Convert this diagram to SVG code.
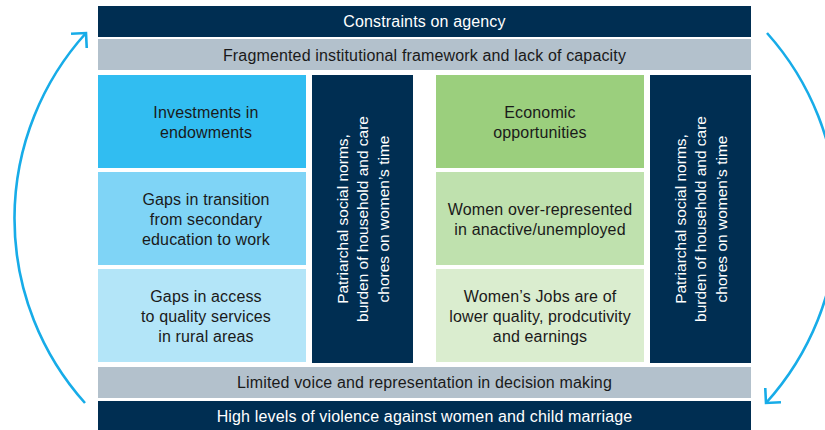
<svg xmlns="http://www.w3.org/2000/svg" width="825" height="430" viewBox="0 0 825 430">
<defs>
<style>
text{font-family:"Liberation Sans","DejaVu Sans",Arial,sans-serif;font-size:16px;letter-spacing:0.15px;text-anchor:middle;}
.vt{font-size:15.5px;letter-spacing:0;}
.dk{fill:#002E52;}
.gr{fill:#B3C1CC;}
.wt{fill:#FFFFFF;}
.bt{fill:#1A1A1A;}
.arc{fill:none;stroke:#17ACE8;stroke-width:2.6;}
</style>
<marker id="ah" markerWidth="24" markerHeight="24" refX="12" refY="12" orient="auto" markerUnits="userSpaceOnUse">
<path d="M1.4,1.4 L12,12 L1.4,22.6" fill="none" stroke="#17ACE8" stroke-width="2.6" stroke-linecap="butt"/>
</marker>
</defs>
<rect width="825" height="430" fill="#FFFFFF"/>

<g id="constraints">
<rect class="dk" x="98" y="6" width="653" height="31"/>
<text class="wt" x="424.5" y="27">Constraints on agency</text>
</g>
<g id="fragmented">
<rect class="gr" x="98" y="39" width="653" height="31"/>
<text class="bt" x="424.5" y="60.5">Fragmented institutional framework and lack of capacity</text>
</g>

<g id="investments">
<rect x="98" y="75" width="208" height="93" fill="#31BDF1"/>
<text class="bt" x="206" y="117.5">Investments in</text>
<text class="bt" x="206" y="137.5">endowments</text>
</g>
<g id="gaps-transition">
<rect x="98" y="172" width="208" height="93" fill="#7FD4F6"/>
<text class="bt" x="206" y="204.5">Gaps in transition</text>
<text class="bt" x="206" y="224.5">from secondary</text>
<text class="bt" x="206" y="244.5">education to work</text>
</g>
<g id="gaps-access">
<rect x="98" y="269" width="208" height="93" fill="#B3E5F8"/>
<text class="bt" x="206" y="301.5">Gaps in access</text>
<text class="bt" x="206" y="321.5">to quality services</text>
<text class="bt" x="206" y="341.5">in rural areas</text>
</g>
<g id="norms-left">
<rect class="dk" x="312" y="75" width="101" height="288"/>
<g transform="translate(362.5,219) rotate(-90)">
<text class="wt vt" x="0" y="-15">Patriarchal social norms,</text>
<text class="wt vt" x="0" y="5.5">burden of household and care</text>
<text class="wt vt" x="0" y="26">chores on women’s time</text>
</g>
</g>

<g id="economic">
<rect x="436" y="75" width="208" height="93" fill="#9BCF7D"/>
<text class="bt" x="540" y="117.5">Economic</text>
<text class="bt" x="540" y="137.5">opportunities</text>
</g>
<g id="women-over">
<rect x="436" y="172" width="208" height="93" fill="#BFE1AE"/>
<text class="bt" x="540" y="214.5">Women over-represented</text>
<text class="bt" x="540" y="234.5">in anactive/unemployed</text>
</g>
<g id="women-jobs">
<rect x="436" y="269" width="208" height="93" fill="#DAEDCF"/>
<text class="bt" x="540" y="301.5">Women’s Jobs are of</text>
<text class="bt" x="540" y="321.5">lower quality, prodcutivity</text>
<text class="bt" x="540" y="341.5">and earnings</text>
</g>
<g id="norms-right">
<rect class="dk" x="650" y="75" width="101" height="288"/>
<g transform="translate(700.5,219) rotate(-90)">
<text class="wt vt" x="0" y="-15">Patriarchal social norms,</text>
<text class="wt vt" x="0" y="5.5">burden of household and care</text>
<text class="wt vt" x="0" y="26">chores on women’s time</text>
</g>
</g>

<g id="limited-voice">
<rect class="gr" x="98" y="367" width="653" height="31"/>
<text class="bt" x="424.5" y="388">Limited voice and representation in decision making</text>
</g>
<g id="violence">
<rect class="dk" x="98" y="401" width="653" height="31"/>
<text class="wt" x="424.5" y="422">High levels of violence against women and child marriage</text>
</g>

<g id="connectors">
<path class="arc" d="M85,403 A276.5,276.5 0 0 1 86,33" marker-end="url(#ah)"/>
<path class="arc" d="M767,33 A276.5,276.5 0 0 1 766,403" marker-end="url(#ah)"/>
</g>
</svg>
